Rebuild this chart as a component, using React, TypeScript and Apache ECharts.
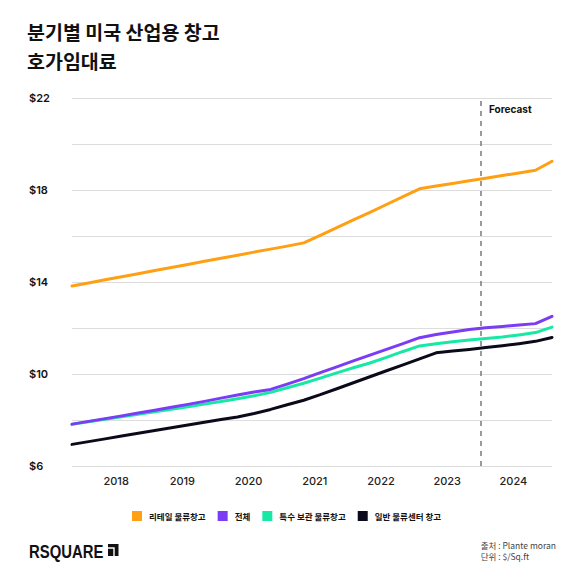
import React, { useEffect, useRef } from "react";
import * as echarts from "echarts";

// Quarter of each observation (placed at the middle month of the quarter)
const quarters = [
  "2017Q2", "2017Q3", "2017Q4",
  "2018Q1", "2018Q2", "2018Q3", "2018Q4",
  "2019Q1", "2019Q2", "2019Q3", "2019Q4",
  "2020Q1", "2020Q2", "2020Q3", "2020Q4",
  "2021Q1", "2021Q2", "2021Q3", "2021Q4",
  "2022Q1", "2022Q2", "2022Q3", "2022Q4",
  "2023Q1", "2023Q2", "2023Q3", "2023Q4",
  "2024Q1", "2024Q2", "2024Q3",
];

const yearLabels = [2018, 2019, 2020, 2021, 2022, 2023, 2024];
const yTickLabels = [6, 10, 14, 18, 22];
const forecastStart = 2023.5;

const titleLines = ["분기별 미국 산업용 창고", "호가임대료"];
const seriesNames = ["리테일 물류창고", "전체", "특수 보관 물류창고", "일반 물류센터 창고"];

const retail = [
  13.83, 13.96, 14.1, 14.23, 14.36, 14.5, 14.63, 14.76, 14.9, 15.03,
  15.16, 15.3, 15.43, 15.56, 15.7, 16.03, 16.36, 16.7, 17.03, 17.37,
  17.71, 18.05, 18.17, 18.28, 18.4, 18.51, 18.63, 18.74, 18.86, 19.25,
];
const total = [
  7.82, 7.94, 8.06, 8.18, 8.3, 8.42, 8.55, 8.68, 8.81, 8.95,
  9.09, 9.22, 9.33, 9.56, 9.8, 10.06, 10.31, 10.57, 10.82, 11.07,
  11.32, 11.58, 11.72, 11.83, 11.93, 12.01, 12.07, 12.13, 12.19, 12.51,
];
const special = [
  7.81, 7.92, 8.03, 8.14, 8.25, 8.36, 8.47, 8.58, 8.69, 8.8,
  8.92, 9.05, 9.2, 9.4, 9.6, 9.82, 10.05, 10.27, 10.48, 10.72,
  10.98, 11.22, 11.32, 11.4, 11.48, 11.54, 11.61, 11.7, 11.8, 12.04,
];
const general = [
  6.94, 7.06, 7.18, 7.3, 7.42, 7.54, 7.66, 7.78, 7.9, 8.02,
  8.13, 8.28, 8.46, 8.66, 8.86, 9.1, 9.36, 9.62, 9.88, 10.14,
  10.4, 10.66, 10.92, 11.0, 11.07, 11.15, 11.23, 11.32, 11.42, 11.59,
];

const colors = ["#FF9F14", "#7B3CF5", "#17E8A3", "#0B0A1A"];

const quarterToX = (q: string) => {
  const year = parseInt(q.slice(0, 4), 10);
  const qn = parseInt(q.slice(5), 10);
  return year + (3 * qn - 2) / 12;
};

const FONT = "Inter, 'Noto Sans CJK KR', 'Noto Sans', sans-serif";
const KFONT = "'Noto Sans CJK KR', Inter, sans-serif";

export default function App() {
  const ref = useRef<HTMLDivElement>(null);

  useEffect(() => {
    if (!ref.current) return;
    const chart = echarts.init(ref.current, undefined, { renderer: "svg" });
    const xs = quarters.map(quarterToX);
    const toData = (vals: number[]) => vals.map((v, i) => [xs[i], v]);
    const allValues = [retail, total, special, general];

    const series: any[] = allValues.map((vals, idx) => ({
      name: seriesNames[idx],
      type: "line",
      data: toData(vals),
      showSymbol: false,
      symbol: "none",
      z: idx === 1 ? 4 : 3,
      lineStyle: { width: 3, color: colors[idx], cap: "round", join: "round" },
      itemStyle: { color: colors[idx] },
    }));
    series[0].markLine = {
      silent: true,
      symbol: "none",
      label: { show: false },
      lineStyle: { color: "#7a7a7a", type: [5, 5], width: 1.5 },
      data: [{ xAxis: forecastStart }],
    };

    chart.setOption({
      animation: false,
      backgroundColor: "#ffffff",
      color: colors,
      legend: {
        data: seriesNames,
        left: 127,
        top: 506,
        icon: "rect",
        itemWidth: 10,
        itemHeight: 10,
        itemGap: 12,
        textStyle: {
          fontFamily: KFONT,
          fontSize: 8.5,
          fontWeight: "bold",
          color: "#111111",
          padding: [0, 0, 0, 2],
        },
      },
      grid: { left: 72, right: 28, top: 98, bottom: 114, containLabel: false },
      xAxis: {
        type: "value",
        min: xs[0],
        max: xs[xs.length - 1],
        axisLine: { show: false },
        axisTick: { show: false },
        splitLine: { show: false },
        axisLabel: {
          customValues: yearLabels,
          formatter: (v: number) => String(Math.round(v)),
          margin: 9,
          fontFamily: FONT,
          fontSize: 11,
          fontWeight: 500,
          color: "#222222",
        },
      },
      yAxis: {
        type: "value",
        min: 6,
        max: 22,
        interval: 2,
        axisLine: { show: false },
        axisTick: { show: false },
        splitLine: { show: true, lineStyle: { color: "#dddddd", width: 1 } },
        axisLabel: {
          formatter: (v: number) => (yTickLabels.includes(v) ? "$" + v : ""),
          align: "left",
          margin: 43,
          padding: [7, 0, 0, 0],
          fontFamily: FONT,
          fontSize: 11,
          fontWeight: 600,
          color: "#111111",
        },
      },
      graphic: [
        {
          type: "text",
          x: 27,
          y: 31.5,
          style: {
            text: titleLines[0],
            fontFamily: KFONT,
            fontSize: 19.5,
            fontWeight: "bold",
            fill: "#111111",
            textVerticalAlign: "middle",
          },
        },
        {
          type: "text",
          x: 27,
          y: 60,
          style: {
            text: titleLines[1],
            fontFamily: KFONT,
            fontSize: 19.5,
            fontWeight: "bold",
            fill: "#111111",
            textVerticalAlign: "middle",
          },
        },
        {
          type: "text",
          left: 489,
          top: 104,
          style: {
            text: "Forecast",
            fontFamily: FONT,
            fontSize: 10,
            fontWeight: "bold",
            fill: "#111111",
          },
        },
        {
          type: "text",
          x: 29,
          y: 543,
          scaleX: 0.85,
          style: {
            text: "RSQUARE",
            fontFamily: "'Liberation Sans', Arial, sans-serif",
            fontSize: 17.5,
            fontWeight: "bold",
            fill: "#111111",
            textVerticalAlign: "top",
          },
        },
        {
          type: "rect",
          shape: { x: 108, y: 544, width: 10.5, height: 12 },
          style: { fill: "#111111" },
        },
        {
          type: "polyline",
          shape: { points: [[108, 548], [114, 548], [114, 556]] },
          style: { stroke: "#ffffff", lineWidth: 1.4, fill: "none" },
        },
        {
          type: "text",
          right: 24,
          top: 540,
          style: {
            text: "출처 : Plante moran\n단위 : $/Sq.ft",
            fontFamily: "'Noto Sans CJK KR', Roboto, sans-serif",
            fontSize: 8.5,
            lineHeight: 10.5,
            align: "right",
            fill: "#444444",
          },
        },
      ],
      series,
    });
    return () => chart.dispose();
  }, []);

  return (
    <div
      ref={ref}
      style={{ position: "fixed", left: 0, top: 0, width: 580, height: 580, background: "#fff" }}
    />
  );
}
